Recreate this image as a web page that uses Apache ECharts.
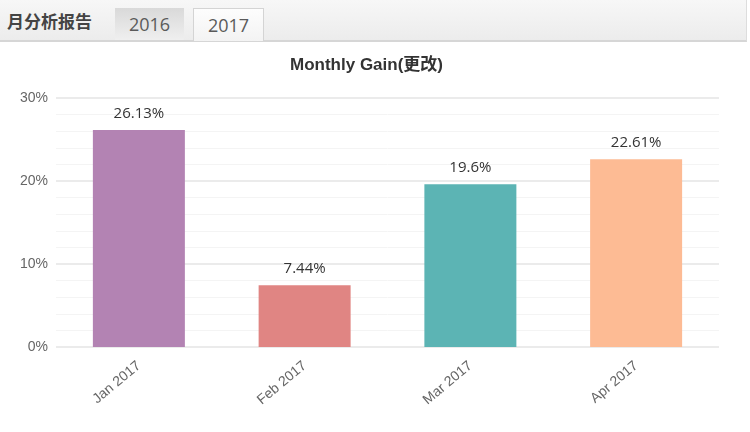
<!DOCTYPE html>
<html>
<head>
<meta charset="utf-8">
<script src="https://cdn.jsdelivr.net/npm/echarts@6/dist/echarts.min.js"></script>
<style>
  html, body { margin: 0; padding: 0; background: #fff; }
  #head {
    position: absolute; left: 0; top: 0; width: 746px; height: 40px;
    background: linear-gradient(#f7f7f7, #ececec);
    border-bottom: 2px solid #d6d6d6; border-right: 1px solid #ddd;
    font-family: "Noto Sans CJK SC", sans-serif;
  }
  #head .ttl { position: absolute; left: 7px; top: 8px; font-size: 17px; font-weight: bold; color: #444; }
  #head .tab {
    position: absolute; top: 8px; height: 32px; line-height: 33px; width: 69px;
    text-align: center; font-size: 18px; color: #5a5a5a; font-family: "Open Sans", sans-serif;
  }
  #t16 { left: 115px; background: linear-gradient(#d9d9d9, #efefef); }
  #t17 { left: 193px; background: linear-gradient(#fdfdfd, #f3f3f3); border: 1px solid #d4d4d4; border-bottom: none; height: 33px; }
  #chart { position: absolute; left: 0; top: 42px; width: 750px; height: 390px; }
</style>
</head>
<body>
<div id="head">
  <div class="ttl">月分析报告</div>
  <div class="tab" id="t16">2016</div>
  <div class="tab" id="t17">2017</div>
</div>
<div id="chart"></div>
<script>
// 月度收益数据
const months = ['Jan 2017', 'Feb 2017', 'Mar 2017', 'Apr 2017'];
const gains = [26.13, 7.44, 19.6, 22.61];
const barColors = ['#b383b3', '#e08583', '#5cb4b4', '#fdbb94'];
const yTicks = [0, 10, 20, 30];

const chart = echarts.init(document.getElementById('chart'));

const option = {
    animation: false,
    title: {
        text: 'Monthly Gain(更改)',
        left: 285,
        top: 10,
        textStyle: {
            fontFamily: 'Liberation Sans, Noto Sans CJK SC',
            fontSize: 17,
            fontWeight: 'bold',
            color: '#333'
        }
    },
    grid: {
        left: 56,
        right: 31,
        top: 56,
        bottom: 85
    },
    xAxis: {
        type: 'category',
        data: months,
        axisLine: { show: false },
        axisTick: { show: false },
        axisLabel: {
            rotate: 40,
            margin: 17,
            color: '#666',
            fontSize: 14,
            fontFamily: 'Liberation Sans'
        }
    },
    yAxis: {
        type: 'value',
        min: yTicks[0],
        max: yTicks[yTicks.length - 1],
        interval: 10,
        axisLine: { show: false },
        axisTick: { show: false },
        axisLabel: {
            formatter: '{value}%',
            color: '#666',
            fontSize: 14,
            margin: 8,
            padding: [8, 0, 0, 0],
            fontFamily: 'Liberation Sans'
        },
        splitLine: { lineStyle: { color: '#e4e4e4', width: 1.5 } },
        minorTick: { show: false, splitNumber: 5 },
        minorSplitLine: { show: true, lineStyle: { color: '#f4f4f4' } }
    },
    series: [{
        type: 'bar',
        barWidth: 92,
        data: gains.map((v, i) => ({ value: v, itemStyle: { color: barColors[i] } })),
        label: {
            show: true,
            position: 'top',
            distance: 9,
            formatter: '{c}%',
            color: '#333',
            fontSize: 15,
            fontFamily: 'Open Sans'
        }
    }]
};

chart.setOption(option);
</script>
</body>
</html>
